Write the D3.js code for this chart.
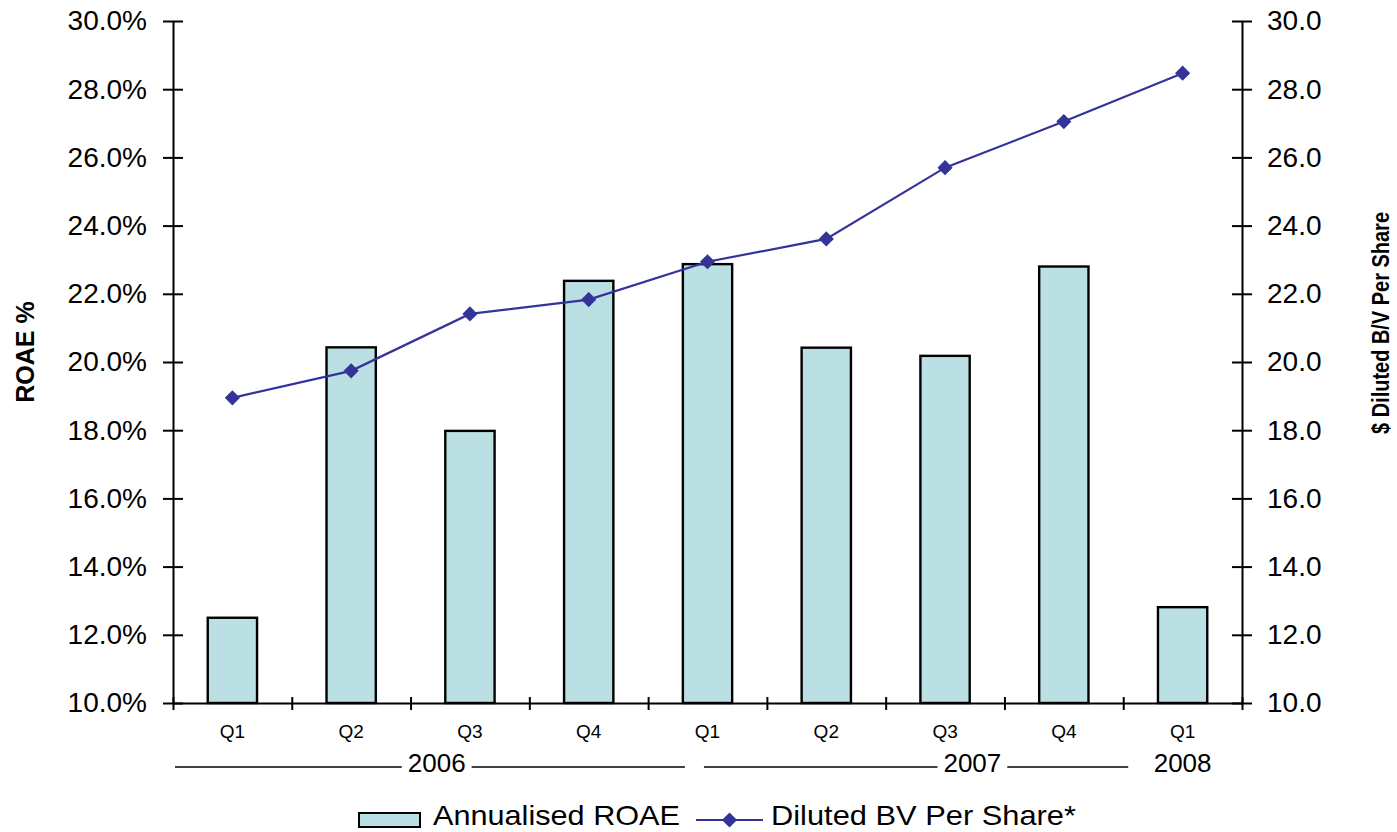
<!DOCTYPE html>
<html>
<head>
<meta charset="utf-8">
<script src="https://cdn.jsdelivr.net/npm/d3@7/dist/d3.min.js"></script>
<style>
  html, body { margin: 0; padding: 0; background: #ffffff; }
  svg { display: block; font-family: "Liberation Sans", Arial, sans-serif; }
</style>
</head>
<body>
<svg id="chart" width="1397" height="832"></svg>
<script>
// Quarterly categories
const quarters = ["Q1", "Q2", "Q3", "Q4", "Q1", "Q2", "Q3", "Q4", "Q1"];
// Year groups: label, first category index, number of categories
const yearGroups = [
  { year: "2006", first: 0, count: 4 },
  { year: "2007", first: 4, count: 4 },
  { year: "2008", first: 8, count: 1 }
];
// Annualised ROAE (%)
const roae = [12.5, 20.43, 17.98, 22.38, 22.87, 20.42, 20.18, 22.8, 12.81];
// Diluted book value per share ($)
const bvPerShare = [18.95, 19.74, 21.41, 21.83, 22.94, 23.61, 25.70, 27.05, 28.47];
// Axis ticks
const leftTicks = [10, 12, 14, 16, 18, 20, 22, 24, 26, 28, 30];
const rightTicks = [10, 12, 14, 16, 18, 20, 22, 24, 26, 28, 30];

(function () {
  const svg = d3.select("#chart");
  const plotLeft = 173, plotRight = 1242, plotTop = 21, plotBottom = 703;

  const x = d3.scaleBand()
    .domain(d3.range(quarters.length))
    .range([plotLeft, plotRight])
    .paddingInner(0.585)
    .paddingOuter(0.2925);
  const step = x.step();
  const xEdge = d3.scaleLinear().domain([0, quarters.length]).range([plotLeft, plotRight]);

  const yL = d3.scaleLinear().domain([10, 30]).range([plotBottom, plotTop]);
  const yR = d3.scaleLinear().domain([10, 30]).range([plotBottom, plotTop]);

  // Bars
  svg.append("g")
    .selectAll("rect")
    .data(roae)
    .join("rect")
    .attr("x", (d, i) => x(i))
    .attr("y", d => yL(d))
    .attr("width", x.bandwidth())
    .attr("height", d => yL(10) - yL(d))
    .attr("fill", "#bae0e3")
    .attr("stroke", "#000")
    .attr("stroke-width", 2.4);

  // Category axis with boundary ticks
  const xAxis = svg.append("g")
    .attr("transform", `translate(0,${plotBottom})`)
    .call(d3.axisBottom(xEdge).tickValues(d3.range(quarters.length + 1)).tickFormat("").tickSizeInner(7).tickSizeOuter(0));
  xAxis.select(".domain").attr("stroke", "#000").attr("stroke-width", 2);
  xAxis.selectAll(".tick line").attr("y1", -6).attr("stroke-width", 2);

  const qAxis = svg.append("g")
    .attr("transform", `translate(0,${plotBottom})`)
    .call(d3.axisBottom(x).tickSize(0).tickPadding(22).tickFormat(i => quarters[i]));
  qAxis.select(".domain").remove();
  qAxis.selectAll("text")
    .attr("font-family", "Liberation Sans, Arial, sans-serif")
    .attr("font-size", 19)
    .attr("fill", "#000");

  // Year group labels with rules
  const yearY = 772;
  const lineY = 767;
  const yearG = svg.append("g");
  yearGroups.forEach((g, k) => {
    const next = yearGroups[k + 1];
    const hasRule = g.count > 1;
    let cx;
    if (!hasRule) {
      cx = x(g.first) + x.bandwidth() / 2;
    } else {
      cx = xEdge(g.first) + step * (k === 0 ? 2.22 : 2.73);
    }
    const t = yearG.append("text")
      .attr("x", cx)
      .attr("y", yearY)
      .attr("text-anchor", "middle")
      .attr("font-size", 26)
      .attr("fill", "#000")
      .text(g.year);
    if (hasRule) {
      const w = t.node().getComputedTextLength();
      const x0 = g.first === 0 ? xEdge(0) + 2 : xEdge(g.first) + step * 0.47;
      const x1 = next && next.count > 1 ? xEdge(g.first + g.count) + step * 0.31 : xEdge(g.first + g.count) + 5;
      yearG.append("line")
        .attr("x1", x0).attr("x2", cx - w / 2 - 6)
        .attr("y1", lineY).attr("y2", lineY)
        .attr("stroke", "#000").attr("stroke-width", 1.6);
      yearG.append("line")
        .attr("x1", cx + w / 2 + 6).attr("x2", x1)
        .attr("y1", lineY).attr("y2", lineY)
        .attr("stroke", "#000").attr("stroke-width", 1.6);
    }
  });

  // Left axis
  const lAxis = svg.append("g")
    .attr("transform", `translate(${plotLeft},0)`)
    .call(d3.axisLeft(yL).tickValues(leftTicks).tickSizeInner(10).tickSizeOuter(0).tickPadding(16)
      .tickFormat(d => d3.format(".1f")(d) + "%"));
  lAxis.select(".domain").attr("stroke", "#000").attr("stroke-width", 2);
  lAxis.selectAll(".tick line").attr("x1", 10).attr("stroke-width", 2);
  lAxis.selectAll("text")
    .attr("font-family", "Liberation Sans, Arial, sans-serif")
    .attr("font-size", 28)
    .attr("fill", "#000");

  // Right axis
  const rAxis = svg.append("g")
    .attr("transform", `translate(${plotRight},0)`)
    .call(d3.axisRight(yR).tickValues(rightTicks).tickSizeInner(10).tickSizeOuter(0).tickPadding(15)
      .tickFormat(d3.format(".1f")));
  rAxis.select(".domain").attr("stroke", "#000").attr("stroke-width", 2);
  rAxis.selectAll(".tick line").attr("x1", -10).attr("stroke-width", 2);
  rAxis.selectAll("text")
    .attr("font-family", "Liberation Sans, Arial, sans-serif")
    .attr("font-size", 28)
    .attr("fill", "#000");

  // Axis titles
  svg.append("text")
    .attr("transform", "translate(34,352) rotate(-90)")
    .attr("text-anchor", "middle")
    .attr("font-size", 25)
    .attr("font-weight", "bold")
    .text("ROAE %");
  svg.append("text")
    .attr("transform", "translate(1389,323) rotate(-90)")
    .attr("text-anchor", "middle")
    .attr("font-size", 24)
    .attr("font-weight", "bold")
    .attr("textLength", 222)
    .attr("lengthAdjust", "spacingAndGlyphs")
    .text("$ Diluted B/V Per Share");

  // Book value line with diamond markers
  const lineColor = "#333399";
  const cxOf = i => x(i) + x.bandwidth() / 2;
  const marker = d3.symbol().type(d3.symbolSquare).size(115);
  svg.append("path")
    .datum(bvPerShare)
    .attr("d", d3.line().x((d, i) => cxOf(i)).y(d => yR(d)))
    .attr("fill", "none")
    .attr("stroke", lineColor)
    .attr("stroke-width", 2.2);
  svg.append("g")
    .selectAll("path")
    .data(bvPerShare)
    .join("path")
    .attr("transform", (d, i) => `translate(${cxOf(i)},${yR(d)}) rotate(45)`)
    .attr("d", marker)
    .attr("fill", lineColor);

  // Legend
  const legend = svg.append("g");
  legend.append("rect")
    .attr("x", 359).attr("y", 813).attr("width", 61).attr("height", 14)
    .attr("fill", "#bae0e3").attr("stroke", "#000").attr("stroke-width", 2);
  legend.append("text")
    .attr("x", 433).attr("y", 825)
    .attr("font-size", 28)
    .attr("textLength", 247)
    .attr("lengthAdjust", "spacingAndGlyphs")
    .text("Annualised ROAE");
  legend.append("line")
    .attr("x1", 696).attr("x2", 763).attr("y1", 820).attr("y2", 820)
    .attr("stroke", lineColor).attr("stroke-width", 2.2);
  legend.append("path")
    .attr("transform", "translate(729.5,820) rotate(45)")
    .attr("d", marker)
    .attr("fill", lineColor);
  legend.append("text")
    .attr("x", 771).attr("y", 825)
    .attr("font-size", 28)
    .attr("textLength", 305)
    .attr("lengthAdjust", "spacingAndGlyphs")
    .text("Diluted BV Per Share*");
})();
</script>
</body>
</html>
